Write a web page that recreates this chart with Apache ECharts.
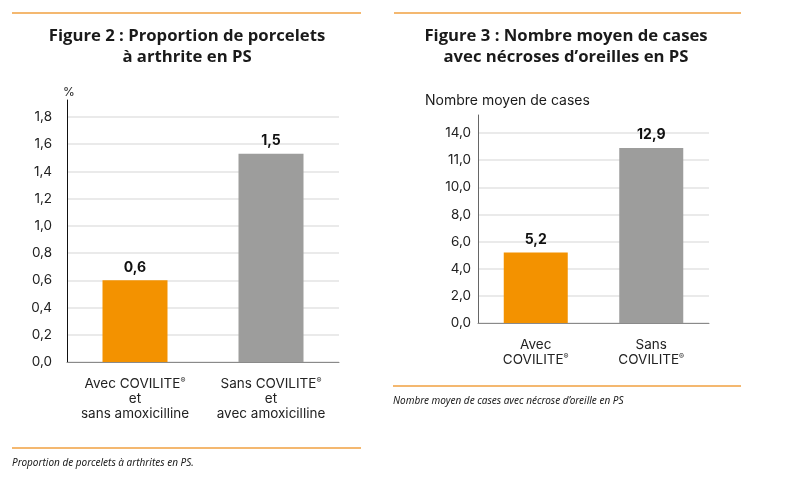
<!DOCTYPE html>
<html><head><meta charset="utf-8">
<script src="https://cdn.jsdelivr.net/npm/echarts@6/dist/echarts.min.js"></script>
<style>html,body{margin:0;padding:0;background:#fff}#c{width:788px;height:501px}</style>
</head><body><div id="c"></div>
<script>
// Figure 2 data
const fig2Categories = ['Avec COVILITE®\net\nsans amoxicilline', 'Sans COVILITE®\net\navec amoxicilline'];
const fig2Values = [0.6, 1.53];
const fig2ValueLabels = ['0,6', '1,5'];
const fig2TickLabels = ['0,0','0,2','0,4','0,6','0,8','1,0','1,2','1,4','1,6','1,8'];
// Figure 3 data
const fig3Categories = ['Avec\nCOVILITE®', 'Sans\nCOVILITE®'];
const fig3Values = [5.2, 12.9];
const fig3ValueLabels = ['5,2', '12,9'];
const fig3TickLabels = ['0,0','2,0','4,0','6,0','8,0','10,0','11,0','14,0'];

const ORANGE = '#F39200', GREY = '#9D9D9C';
const FONT = 'Inter';
const TFONT = '"Open Sans"';
const chart = echarts.init(document.getElementById('c'));

function catFmt(v){ return v.replace(/®/g, '{s|®}'); }
const catLabel = {
  color:'#222', fontSize:13.5, fontFamily:FONT, lineHeight:15, margin:14, interval:0,
  formatter: catFmt,
  rich:{ s:{ fontSize:7.5, fontFamily:FONT, color:'#222', padding:[0,0,6,0] } }
};

function txt(x,y,text,font,align){
  return {type:'text', x:x, y:y, silent:true,
    style:{text:text, font:font, fill:'#1a1a1a', align:align||'left', verticalAlign:'middle'}};
}
function rule(x1,x2,y){
  return {type:'line', silent:true, shape:{x1:x1,y1:y,x2:x2,y2:y}, style:{stroke:'#F0A040', lineWidth:1.3}};
}

chart.setOption({
  animation:false,
  grid:[
    {left:67, top:100, width:272, height:262},
    {left:478, top:115, width:231, height:208}
  ],
  xAxis:[
    {type:'category', gridIndex:0, data:fig2Categories, axisTick:{show:false},
      axisLine:{lineStyle:{color:'#8a8a8a', width:1}}, axisLabel:catLabel},
    {type:'category', gridIndex:1, data:fig3Categories, axisTick:{show:false},
      axisLine:{lineStyle:{color:'#8a8a8a', width:1}}, axisLabel:catLabel}
  ],
  yAxis:[
    {type:'value', gridIndex:0, min:0, max:1.925, interval:0.2,
      axisLine:{show:true, lineStyle:{color:'#111', width:1}}, axisTick:{show:false},
      splitLine:{show:true, showMaxLine:false, lineStyle:{color:'#e3e3e3', width:1.5}},
      axisLabel:{showMaxLabel:false, color:'#222', fontSize:13.5, fontFamily:FONT, margin:15,
        formatter:function(v){ const i = Math.round(v/0.2); return fig2TickLabels[i] || ''; }}},
    {type:'value', gridIndex:1, min:0, max:15.33, interval:2,
      axisLine:{show:true, lineStyle:{color:'#666', width:1}}, axisTick:{show:false},
      splitLine:{show:true, showMaxLine:false, lineStyle:{color:'#e3e3e3', width:1.5}},
      axisLabel:{showMaxLabel:false, color:'#222', fontSize:13.5, fontFamily:FONT, margin:7,
        formatter:function(v){ const i = Math.round(v/2); return fig3TickLabels[i] || ''; }}}
  ],
  series:[
    {type:'bar', xAxisIndex:0, yAxisIndex:0, barWidth:65,
      data: fig2Values.map((v,i)=>({value:v, itemStyle:{color: i===0?ORANGE:GREY}})),
      label:{show:true, position:'top', distance:6, fontSize:14, fontWeight:'bold', fontFamily:FONT, color:'#111',
        formatter:p=>fig2ValueLabels[p.dataIndex]}},
    {type:'bar', xAxisIndex:1, yAxisIndex:1, barWidth:64,
      data: fig3Values.map((v,i)=>({value:v, itemStyle:{color: i===0?ORANGE:GREY}})),
      label:{show:true, position:'top', distance:6, fontSize:14, fontWeight:'bold', fontFamily:FONT, color:'#111',
        formatter:p=>fig3ValueLabels[p.dataIndex]}}
  ],
  graphic:[
    rule(12,361,13), rule(394,741,13), rule(12,361,448), rule(393,741,386),
    txt(187,36,'Figure 2 : Proportion de porcelets','bold 16.7px ' + TFONT,'center'),
    txt(187,57,'à arthrite en PS','bold 16.7px ' + TFONT,'center'),
    txt(566,36,'Figure 3 : Nombre moyen de cases','bold 16.7px ' + TFONT,'center'),
    txt(566,57,'avec nécroses d’oreilles en PS','bold 16.7px ' + TFONT,'center'),
    txt(69,92,'%','12px Inter','center'),
    txt(425,101,'Nombre moyen de cases','14px Inter','left'),
    txt(12,463,'Proportion de porcelets à arthrites en PS.','italic 10px "Noto Sans"','left'),
    txt(393,401,'Nombre moyen de cases avec nécrose d’oreille en PS','italic 10px "Noto Sans"','left')
  ]
});
</script></body></html>
